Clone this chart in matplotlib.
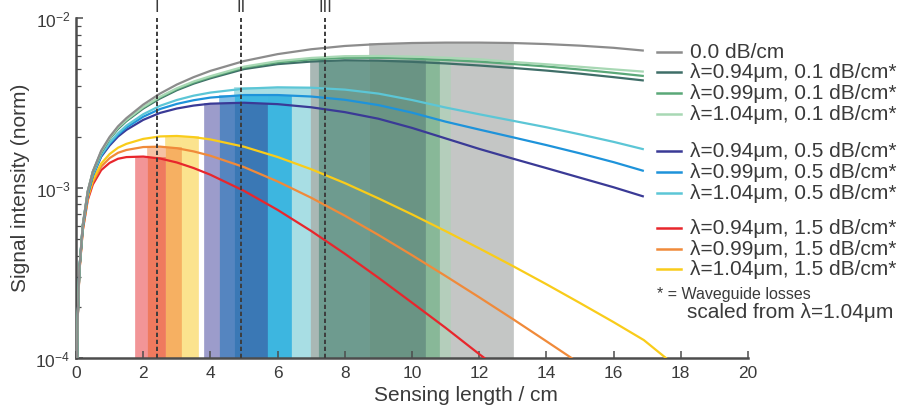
"""Signal intensity vs sensing length, log scale, with optimum-length bands."""
import numpy as np
import matplotlib
matplotlib.use('Agg')
import matplotlib.pyplot as plt
from matplotlib.lines import Line2D
from matplotlib.ticker import FixedLocator, NullFormatter

plt.rcParams['font.family'] = ['Liberation Sans', 'DejaVu Sans']
plt.rcParams['mathtext.fontset'] = 'custom'
plt.rcParams['mathtext.rm'] = 'Liberation Sans'
plt.rcParams['mathtext.default'] = 'regular'

# ---- data (signal in units of 1e-3) ----
length = [0.02, 0.05, 0.1, 0.2, 0.35, 0.5, 0.75, 1, 1.25, 1.5, 2, 2.5, 3, 3.5, 4,
          5, 6, 7, 8, 9, 10, 11, 12, 13, 14, 15, 16, 16.9]

grey = [0.07, 0.17, 0.33, 0.6, 0.96, 1.25, 1.66, 2.0, 2.31, 2.58, 3.1, 3.6, 4.07, 4.5, 4.9,
        5.6, 6.15, 6.57, 6.87, 7.05, 7.15, 7.19, 7.19, 7.15, 7.05, 6.9, 6.7, 6.45]
teal = [0.07, 0.17, 0.33, 0.6, 0.95, 1.24, 1.62, 1.95, 2.23, 2.48, 2.94, 3.37, 3.77, 4.12, 4.43,
        5.02, 5.37, 5.56, 5.66, 5.63, 5.54, 5.42, 5.27, 5.1, 4.92, 4.72, 4.5, 4.3]
green = [0.07, 0.17, 0.33, 0.6, 0.95, 1.24, 1.63, 1.96, 2.25, 2.5, 2.97, 3.41, 3.82, 4.18, 4.5,
         5.12, 5.5, 5.72, 5.85, 5.85, 5.78, 5.68, 5.55, 5.38, 5.2, 4.99, 4.77, 4.57]
lgreen = [0.07, 0.17, 0.33, 0.6, 0.96, 1.25, 1.64, 1.97, 2.27, 2.52, 3.0, 3.45, 3.87, 4.24, 4.56,
          5.19, 5.59, 5.84, 5.98, 6.0, 5.95, 5.86, 5.74, 5.53, 5.36, 5.18, 5.0, 4.85]
navy = [0.07, 0.17, 0.33, 0.58, 0.91, 1.18, 1.53, 1.78, 2.01, 2.2, 2.52, 2.77, 2.94, 3.06, 3.14,
        3.18, 3.12, 2.99, 2.8, 2.56, 2.26, 1.96, 1.7, 1.49, 1.31, 1.15, 1.01, 0.89]
blue = [0.07, 0.17, 0.33, 0.59, 0.92, 1.19, 1.55, 1.82, 2.06, 2.27, 2.63, 2.92, 3.13, 3.29, 3.41,
        3.53, 3.53, 3.46, 3.31, 3.08, 2.78, 2.46, 2.21, 1.99, 1.79, 1.6, 1.42, 1.26]
cyan = [0.07, 0.17, 0.33, 0.59, 0.93, 1.2, 1.57, 1.85, 2.1, 2.33, 2.72, 3.05, 3.3, 3.5, 3.65,
        3.85, 3.92, 3.9, 3.8, 3.6, 3.3, 2.98, 2.72, 2.49, 2.28, 2.07, 1.87, 1.69]

length_red = [0.02, 0.05, 0.1, 0.2, 0.35, 0.5, 0.75, 1, 1.25, 1.5, 2, 2.5, 3, 3.5, 4,
              5, 6, 7, 8, 9, 10, 11, 12, 12.2]
red = [0.07, 0.167, 0.319, 0.559, 0.849, 1.048, 1.275, 1.406, 1.487, 1.521, 1.532, 1.492, 1.414,
       1.311, 1.197, 0.962, 0.743, 0.558, 0.41, 0.296, 0.211, 0.15, 0.105, 0.098]
length_orange = [0.02, 0.05, 0.1, 0.2, 0.35, 0.5, 0.75, 1, 1.25, 1.5, 2, 2.5, 3, 3.5, 4,
                 5, 6, 7, 8, 9, 10, 11, 12, 13, 14, 14.8]
orange = [0.07, 0.168, 0.321, 0.566, 0.868, 1.083, 1.338, 1.5, 1.612, 1.675, 1.743, 1.753, 1.716,
          1.643, 1.549, 1.328, 1.093, 0.876, 0.687, 0.529, 0.402, 0.303, 0.227, 0.169, 0.125, 0.098]
length_yellow = [0.02, 0.05, 0.1, 0.2, 0.35, 0.5, 0.75, 1, 1.25, 1.5, 2, 2.5, 3, 3.5, 4,
                 5, 6, 7, 8, 9, 10, 11, 12, 13, 14, 15, 16, 16.9, 17.6]
yellow = [0.07, 0.168, 0.322, 0.573, 0.885, 1.113, 1.394, 1.585, 1.727, 1.82, 1.947, 2.013, 2.026,
          1.994, 1.933, 1.751, 1.523, 1.29, 1.069, 0.869, 0.699, 0.557, 0.441, 0.347, 0.271, 0.21,
          0.162, 0.127, 0.098]

labels = ['0.0 dB/cm',
          'λ=0.94μm, 0.1 dB/cm*', 'λ=0.99μm, 0.1 dB/cm*', 'λ=1.04μm, 0.1 dB/cm*',
          'λ=0.94μm, 0.5 dB/cm*', 'λ=0.99μm, 0.5 dB/cm*', 'λ=1.04μm, 0.5 dB/cm*',
          'λ=0.94μm, 1.5 dB/cm*', 'λ=0.99μm, 1.5 dB/cm*', 'λ=1.04μm, 1.5 dB/cm*']

# optimum sensing-length bands: x range + which curve sets the height
band_x0 = [1.76, 2.11, 2.11, 2.65, 2.65, 3.13,
           3.80, 4.27, 4.27, 4.71, 4.71, 4.71, 5.69, 5.69, 6.39,
           6.96, 7.20, 8.72, 8.72, 10.39, 10.80]
band_x1 = [2.11, 2.65, 2.65, 3.13, 3.13, 3.63,
           4.27, 4.71, 4.71, 5.69, 5.69, 5.69, 6.39, 6.39, 6.96,
           7.20, 8.72, 13.0, 10.39, 10.80, 11.13]
band_curve = ['red', 'red', 'orange', 'orange', 'yellow', 'yellow',
              'navy', 'navy', 'blue', 'navy', 'blue', 'cyan', 'blue', 'cyan', 'cyan',
              'teal', 'teal', 'grey', 'teal', 'teal', 'teal']

marker_x = [2.42, 4.91, 7.41]
marker_labels = ['I', 'II', 'III']

# ---- styles ----
band_colors = ['#f29597', '#ef7a5e', '#f6c2a3', '#f6b062', '#fbe38e', '#fbe38e',
               '#9c9ccb', '#5585c0', '#82bde6', '#3a78b5', '#3fb7e2', '#a8dee4', '#3db6e0', '#a8dee4', '#a8dee4',
               '#a9b8b5', '#6e9b8f', '#c4c6c5', '#6a9484', '#88b898', '#b4cebb']
TXT = '#3a3a3a'
AX = '#4d4d4d'

curves = {
    'grey': (length, grey, '#8c8c8c'),
    'teal': (length, teal, '#3f6e68'),
    'green': (length, green, '#5aa878'),
    'lgreen': (length, lgreen, '#a8d8b4'),
    'navy': (length, navy, '#3a3a96'),
    'blue': (length, blue, '#1e93da'),
    'cyan': (length, cyan, '#5cc6d6'),
    'red': (length_red, red, '#e8262c'),
    'orange': (length_orange, orange, '#f08a3a'),
    'yellow': (length_yellow, yellow, '#f9cc1a'),
}
legend_keys = ['grey', 'teal', 'green', 'lgreen', 'navy', 'blue', 'cyan', 'red', 'orange', 'yellow']
legend_y = [53, 73, 93.5, 115, 151.5, 173, 194, 229, 249.5, 269.5]  # pixel rows

W, H = 905, 410
fig = plt.figure(figsize=(W / 100, H / 100), dpi=100)
ax = fig.add_axes([76 / W, 1 - 358.7 / H, 672 / W, (358.7 - 19.3) / H])
ax.set_yscale('log')

# bands, tallest first so shorter ones sit on top
tops = [max(curves[c][1]) * 1e-3 for c in band_curve]
for i in np.argsort(tops)[::-1]:
    ax.fill_between([band_x0[i], band_x1[i]], 1e-5, tops[i], color=band_colors[i],
                    lw=0.5, edgecolor=band_colors[i], zorder=1)

ax.vlines(marker_x, 1e-4, 1e-2, colors='#3d3d3d', linestyles=(0, (2.2, 1.4)), lw=1.4, zorder=4)
for x, s in zip(marker_x, marker_labels):
    ax.text(x, 1.035, s, transform=ax.get_xaxis_transform(), ha='center', va='center',
            fontsize=12, color=TXT)

for key in ['red', 'orange', 'yellow', 'navy', 'blue', 'cyan', 'teal', 'green', 'lgreen', 'grey']:
    xs, ys, col = curves[key]
    ax.plot(xs, np.array(ys) * 1e-3, color=col, lw=1.6, zorder=3, solid_capstyle='butt')

ax.set_xlim(0, 20)
ax.set_ylim(1e-4, 1e-2)
ax.xaxis.set_major_locator(FixedLocator(range(0, 21, 2)))
ax.yaxis.set_minor_formatter(NullFormatter())
for s in ['top', 'right']:
    ax.spines[s].set_visible(False)
for s in ['left', 'bottom']:
    ax.spines[s].set_color(AX)
    ax.spines[s].set_linewidth(1.8)
ax.tick_params(which='both', direction='in', color=AX, labelcolor=TXT, labelsize=12.5)
ax.tick_params(which='major', length=5, width=1.1)
ax.tick_params(which='minor', length=3.5, width=0.9)
ax.tick_params(axis='x', pad=5)
ax.tick_params(axis='y', pad=4)

fig.text(466 / W, 1 - 396 / H, 'Sensing length / cm', ha='center', va='center',
         fontsize=15, color=TXT)
fig.text(21 / W, 1 - 188 / H, 'Signal intensity (norm)', ha='center', va='center',
         rotation=90, fontsize=15, color=TXT)

# legend drawn by hand to the right of the axes
for key, lab, yp in zip(legend_keys, labels, legend_y):
    yf = 1 - yp / H
    fig.add_artist(Line2D([657 / W, 681 / W], [yf, yf], color=curves[key][2], lw=1.8))
    fig.text(690 / W, yf, lab, ha='left', va='center', fontsize=15, color=TXT)
fig.text(657 / W, 1 - 294.5 / H, '* = Waveguide losses', ha='left', va='center',
         fontsize=11.5, color=TXT)
fig.text(687 / W, 1 - 313 / H, 'scaled from λ=1.04μm', ha='left', va='center',
         fontsize=15, color=TXT)

fig.savefig('out.png', dpi=100)
